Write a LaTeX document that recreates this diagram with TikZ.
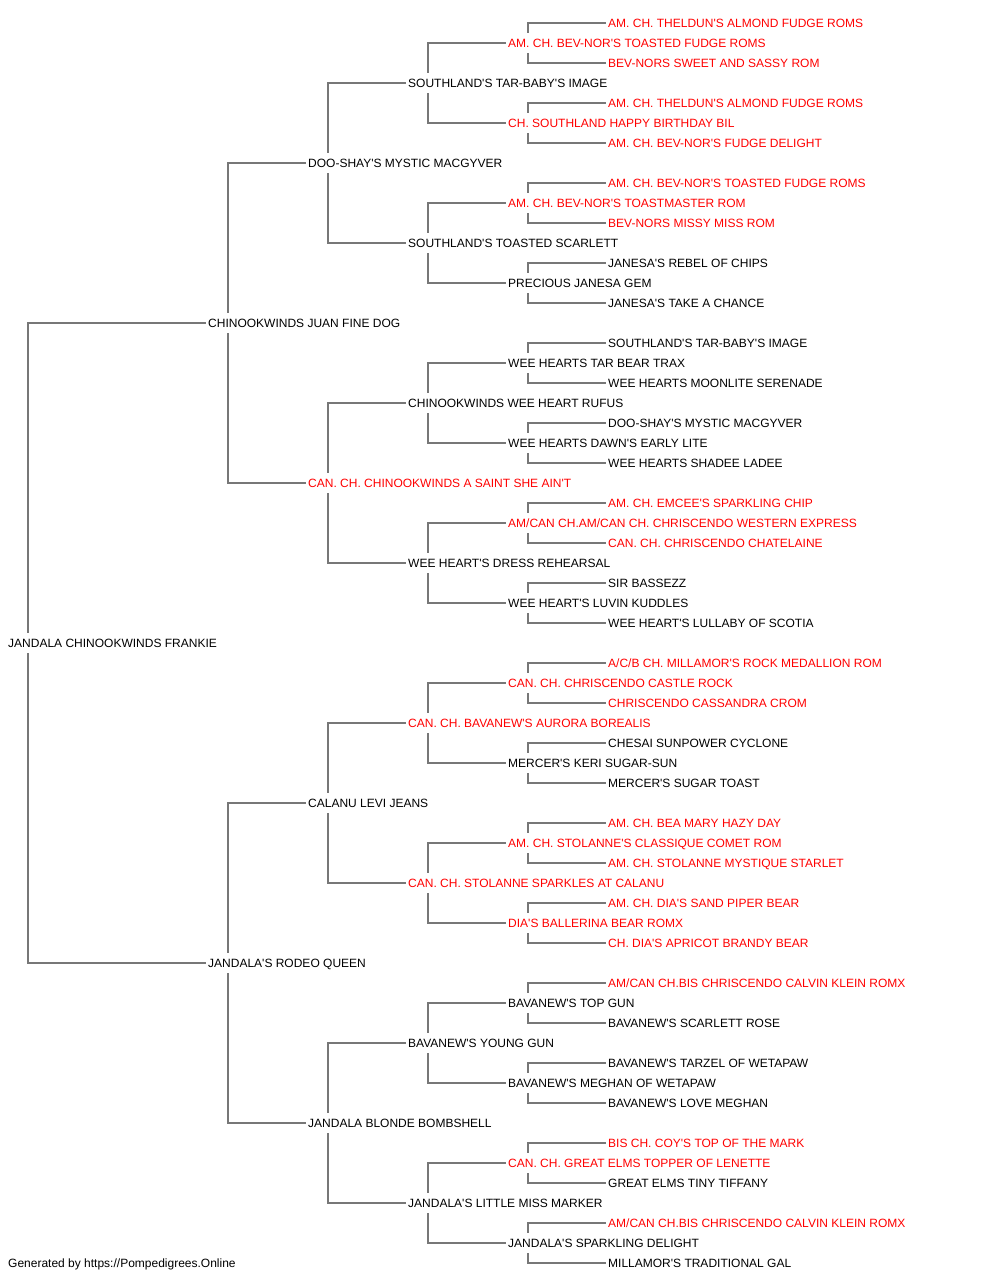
\documentclass[tikz,border=0pt]{standalone}
\usepackage{fontspec}
\newfontfamily\dogfont{Liberation Sans}
\usetikzlibrary{backgrounds}
\definecolor{linegray}{RGB}{119,119,119}
\definecolor{champred}{RGB}{255,0,0}

\begin{document}
\begin{tikzpicture}[x=1pt,y=-1pt,
  dog/.style={anchor=west,fill=white,inner xsep=2pt,inner ysep=5.7pt,
    text height=8.6pt,text depth=0pt,font=\dogfont\fontsize{12}{14}\selectfont},
  champ/.style={dog,text=champred},
  link/.style={draw=linegray,line width=1.4pt}]
  \useasboundingbox (0,0) rectangle (1000,1280);
  % subject and parents
  \node[dog] (g0) at (6,643) {JANDALA CHINOOKWINDS FRANKIE};
  \node[dog] (a1) at (206,323) {CHINOOKWINDS JUAN FINE DOG};
  \node[dog] (a2) at (206,963) {JANDALA'S RODEO QUEEN};
  % grandparents
  \node[dog]   (b1) at (306,163)  {DOO-SHAY'S MYSTIC MACGYVER};
  \node[champ] (b2) at (306,483)  {CAN. CH. CHINOOKWINDS A SAINT SHE AIN'T};
  \node[dog]   (b3) at (306,803)  {CALANU LEVI JEANS};
  \node[dog]   (b4) at (306,1123) {JANDALA BLONDE BOMBSHELL};
  % third generation
  \node[dog]   (c1) at (406,83)   {SOUTHLAND'S TAR-BABY'S IMAGE};
  \node[dog]   (c2) at (406,243)  {SOUTHLAND'S TOASTED SCARLETT};
  \node[dog]   (c3) at (406,403)  {CHINOOKWINDS WEE HEART RUFUS};
  \node[dog]   (c4) at (406,563)  {WEE HEART'S DRESS REHEARSAL};
  \node[champ] (c5) at (406,723)  {CAN. CH. BAVANEW'S AURORA BOREALIS};
  \node[champ] (c6) at (406,883)  {CAN. CH. STOLANNE SPARKLES AT CALANU};
  \node[dog]   (c7) at (406,1043) {BAVANEW'S YOUNG GUN};
  \node[dog]   (c8) at (406,1203) {JANDALA'S LITTLE MISS MARKER};
  % fourth generation
  \node[champ] (d1)  at (506,43)   {AM. CH. BEV-NOR'S TOASTED FUDGE ROMS};
  \node[champ] (d2)  at (506,123)  {CH. SOUTHLAND HAPPY BIRTHDAY BIL};
  \node[champ] (d3)  at (506,203)  {AM. CH. BEV-NOR'S TOASTMASTER ROM};
  \node[dog]   (d4)  at (506,283)  {PRECIOUS JANESA GEM};
  \node[dog]   (d5)  at (506,363)  {WEE HEARTS TAR BEAR TRAX};
  \node[dog]   (d6)  at (506,443)  {WEE HEARTS DAWN'S EARLY LITE};
  \node[champ] (d7)  at (506,523)  {AM/CAN CH.AM/CAN CH. CHRISCENDO WESTERN EXPRESS};
  \node[dog]   (d8)  at (506,603)  {WEE HEART'S LUVIN KUDDLES};
  \node[champ] (d9)  at (506,683)  {CAN. CH. CHRISCENDO CASTLE ROCK};
  \node[dog]   (d10) at (506,763)  {MERCER'S KERI SUGAR-SUN};
  \node[champ] (d11) at (506,843)  {AM. CH. STOLANNE'S CLASSIQUE COMET ROM};
  \node[champ] (d12) at (506,923)  {DIA'S BALLERINA BEAR ROMX};
  \node[dog]   (d13) at (506,1003) {BAVANEW'S TOP GUN};
  \node[dog]   (d14) at (506,1083) {BAVANEW'S MEGHAN OF WETAPAW};
  \node[champ] (d15) at (506,1163) {CAN. CH. GREAT ELMS TOPPER OF LENETTE};
  \node[dog]   (d16) at (506,1243) {JANDALA'S SPARKLING DELIGHT};
  % fifth generation
  \node[champ] (e1)  at (606,23)   {AM. CH. THELDUN'S ALMOND FUDGE ROMS};
  \node[champ] (e2)  at (606,63)   {BEV-NORS SWEET AND SASSY ROM};
  \node[champ] (e3)  at (606,103)  {AM. CH. THELDUN'S ALMOND FUDGE ROMS};
  \node[champ] (e4)  at (606,143)  {AM. CH. BEV-NOR'S FUDGE DELIGHT};
  \node[champ] (e5)  at (606,183)  {AM. CH. BEV-NOR'S TOASTED FUDGE ROMS};
  \node[champ] (e6)  at (606,223)  {BEV-NORS MISSY MISS ROM};
  \node[dog]   (e7)  at (606,263)  {JANESA'S REBEL OF CHIPS};
  \node[dog]   (e8)  at (606,303)  {JANESA'S TAKE A CHANCE};
  \node[dog]   (e9)  at (606,343)  {SOUTHLAND'S TAR-BABY'S IMAGE};
  \node[dog]   (e10) at (606,383)  {WEE HEARTS MOONLITE SERENADE};
  \node[dog]   (e11) at (606,423)  {DOO-SHAY'S MYSTIC MACGYVER};
  \node[dog]   (e12) at (606,463)  {WEE HEARTS SHADEE LADEE};
  \node[champ] (e13) at (606,503)  {AM. CH. EMCEE'S SPARKLING CHIP};
  \node[champ] (e14) at (606,543)  {CAN. CH. CHRISCENDO CHATELAINE};
  \node[dog]   (e15) at (606,583)  {SIR BASSEZZ};
  \node[dog]   (e16) at (606,623)  {WEE HEART'S LULLABY OF SCOTIA};
  \node[champ] (e17) at (606,663)  {A/C/B CH. MILLAMOR'S ROCK MEDALLION ROM};
  \node[champ] (e18) at (606,703)  {CHRISCENDO CASSANDRA CROM};
  \node[dog]   (e19) at (606,743)  {CHESAI SUNPOWER CYCLONE};
  \node[dog]   (e20) at (606,783)  {MERCER'S SUGAR TOAST};
  \node[champ] (e21) at (606,823)  {AM. CH. BEA MARY HAZY DAY};
  \node[champ] (e22) at (606,863)  {AM. CH. STOLANNE MYSTIQUE STARLET};
  \node[champ] (e23) at (606,903)  {AM. CH. DIA'S SAND PIPER BEAR};
  \node[champ] (e24) at (606,943)  {CH. DIA'S APRICOT BRANDY BEAR};
  \node[champ] (e25) at (606,983)  {AM/CAN CH.BIS CHRISCENDO CALVIN KLEIN ROMX};
  \node[dog]   (e26) at (606,1023) {BAVANEW'S SCARLETT ROSE};
  \node[dog]   (e27) at (606,1063) {BAVANEW'S TARZEL OF WETAPAW};
  \node[dog]   (e28) at (606,1103) {BAVANEW'S LOVE MEGHAN};
  \node[champ] (e29) at (606,1143) {BIS CH. COY'S TOP OF THE MARK};
  \node[dog]   (e30) at (606,1183) {GREAT ELMS TINY TIFFANY};
  \node[champ] (e31) at (606,1223) {AM/CAN CH.BIS CHRISCENDO CALVIN KLEIN ROMX};
  \node[dog]   (e32) at (606,1263) {MILLAMOR'S TRADITIONAL GAL};
  \node[dog]   (credit) at (6,1263) {Generated by https://Pompedigrees.Online};
  % brackets, behind the names
  \begin{pgfonlayer}{background}
    \draw[link] (a1.west) -| ([xshift=22pt]g0.west) |- (a2.west);
    \draw[link] (b1.west) -| ([xshift=22pt]a1.west) |- (b2.west);
    \draw[link] (b3.west) -| ([xshift=22pt]a2.west) |- (b4.west);
    \draw[link] (c1.west) -| ([xshift=22pt]b1.west) |- (c2.west);
    \draw[link] (c3.west) -| ([xshift=22pt]b2.west) |- (c4.west);
    \draw[link] (c5.west) -| ([xshift=22pt]b3.west) |- (c6.west);
    \draw[link] (c7.west) -| ([xshift=22pt]b4.west) |- (c8.west);
    \draw[link] (d1.west) -| ([xshift=22pt]c1.west) |- (d2.west);
    \draw[link] (d3.west) -| ([xshift=22pt]c2.west) |- (d4.west);
    \draw[link] (d5.west) -| ([xshift=22pt]c3.west) |- (d6.west);
    \draw[link] (d7.west) -| ([xshift=22pt]c4.west) |- (d8.west);
    \draw[link] (d9.west) -| ([xshift=22pt]c5.west) |- (d10.west);
    \draw[link] (d11.west) -| ([xshift=22pt]c6.west) |- (d12.west);
    \draw[link] (d13.west) -| ([xshift=22pt]c7.west) |- (d14.west);
    \draw[link] (d15.west) -| ([xshift=22pt]c8.west) |- (d16.west);
    \draw[link] (e1.west) -| ([xshift=22pt]d1.west) |- (e2.west);
    \draw[link] (e3.west) -| ([xshift=22pt]d2.west) |- (e4.west);
    \draw[link] (e5.west) -| ([xshift=22pt]d3.west) |- (e6.west);
    \draw[link] (e7.west) -| ([xshift=22pt]d4.west) |- (e8.west);
    \draw[link] (e9.west) -| ([xshift=22pt]d5.west) |- (e10.west);
    \draw[link] (e11.west) -| ([xshift=22pt]d6.west) |- (e12.west);
    \draw[link] (e13.west) -| ([xshift=22pt]d7.west) |- (e14.west);
    \draw[link] (e15.west) -| ([xshift=22pt]d8.west) |- (e16.west);
    \draw[link] (e17.west) -| ([xshift=22pt]d9.west) |- (e18.west);
    \draw[link] (e19.west) -| ([xshift=22pt]d10.west) |- (e20.west);
    \draw[link] (e21.west) -| ([xshift=22pt]d11.west) |- (e22.west);
    \draw[link] (e23.west) -| ([xshift=22pt]d12.west) |- (e24.west);
    \draw[link] (e25.west) -| ([xshift=22pt]d13.west) |- (e26.west);
    \draw[link] (e27.west) -| ([xshift=22pt]d14.west) |- (e28.west);
    \draw[link] (e29.west) -| ([xshift=22pt]d15.west) |- (e30.west);
    \draw[link] (e31.west) -| ([xshift=22pt]d16.west) |- (e32.west);
  \end{pgfonlayer}
\end{tikzpicture}
\end{document}
